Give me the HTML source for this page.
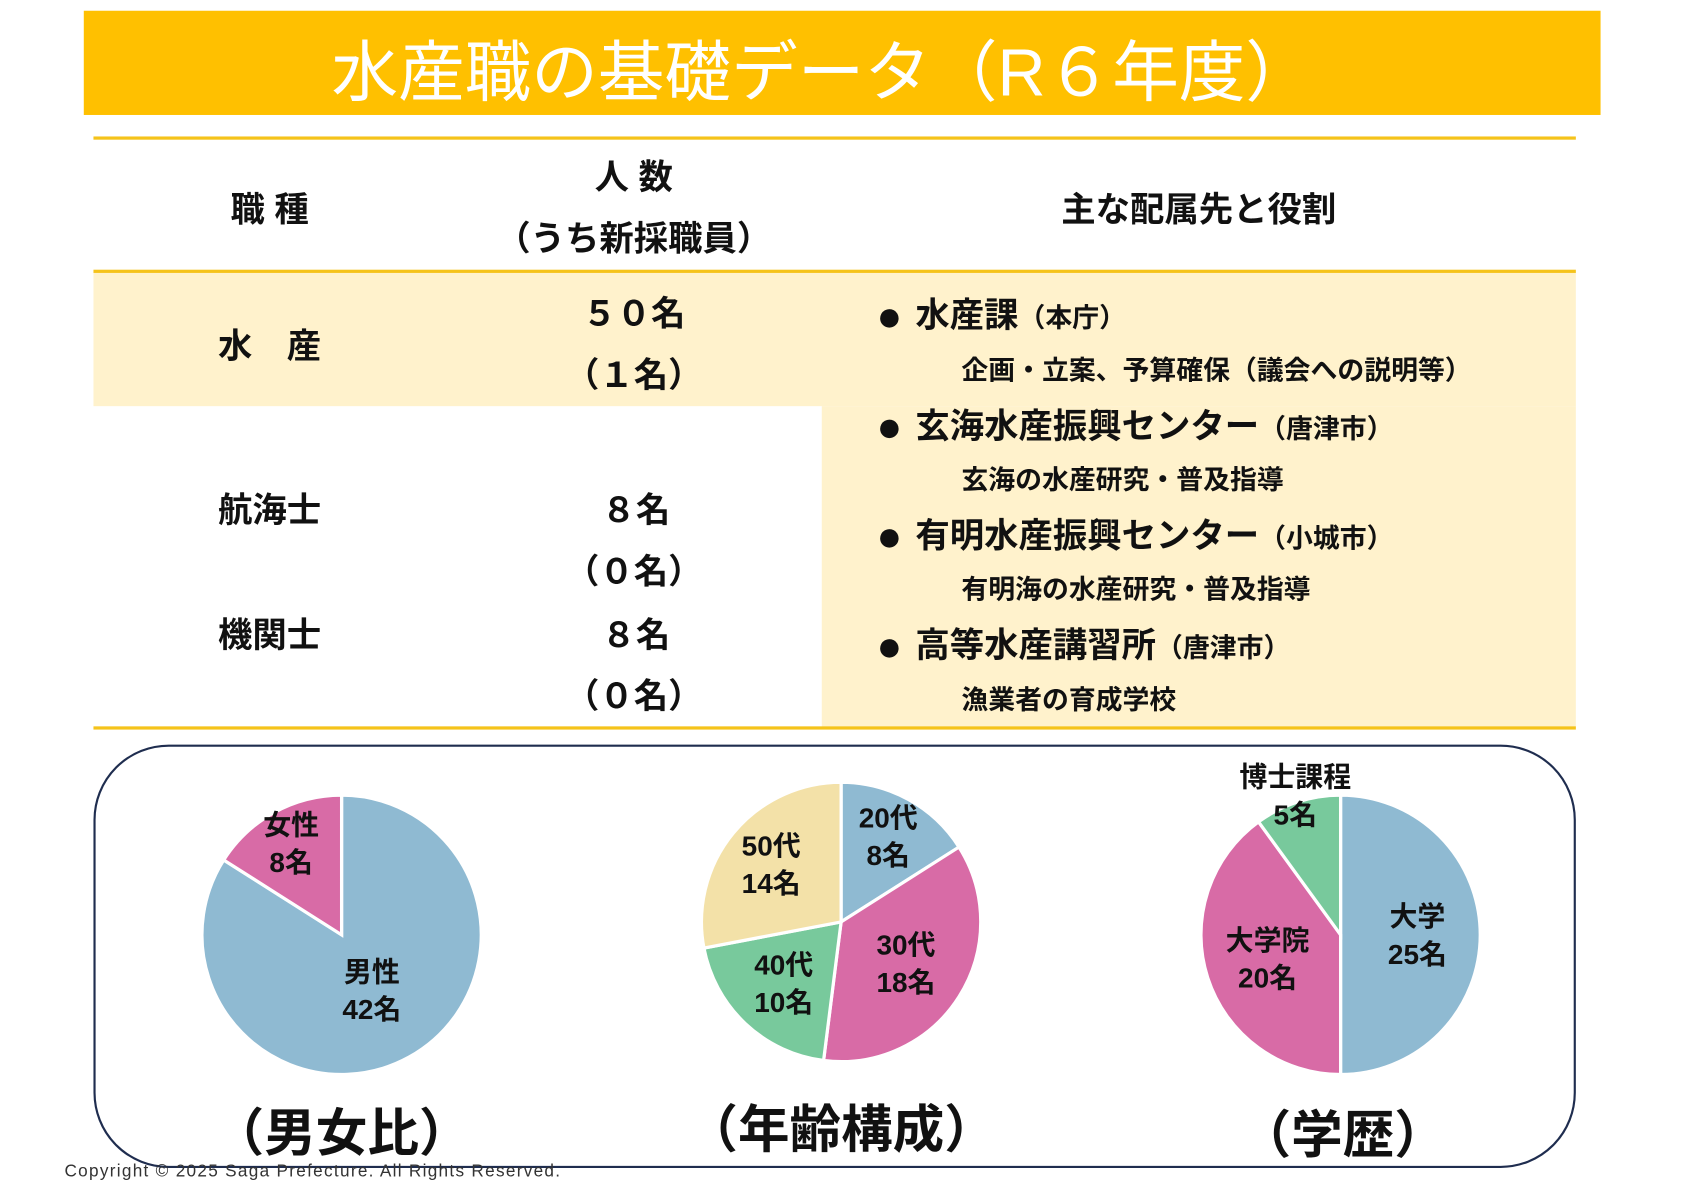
<!DOCTYPE html>
<html><head><meta charset="utf-8">
<style>
html,body{margin:0;padding:0;background:#fff;}
body{width:1684px;height:1190px;overflow:hidden;position:relative;}
#stage{position:absolute;left:0;top:0;width:1560px;height:1102px;transform-origin:0 0;transform:scale(1.0742,1.0745);font-family:"Liberation Sans","Noto Sans CJK JP",sans-serif;color:#111;}
.abs{position:absolute;white-space:nowrap;}
.b{font-weight:bold;}
.line{position:absolute;left:87px;width:1380px;height:3px;background:#f5c31a;}
.cc{transform:translate(-50%,-50%);}
.lc{transform:translateY(-50%);}
.dot{font-size:40px;margin-right:12px;vertical-align:-3px;}
</style></head><body>
<div id="stage">
  <div class="abs" style="left:78px;top:10px;width:1412px;height:97px;background:#ffc000;"></div>
  <div class="abs cc" style="left:765px;top:62px;font-size:62px;color:#fff;">水産職の基礎データ（R６年度）</div>

  <div class="abs" style="left:87px;top:253px;width:1380px;height:125px;background:#fff2cc;"></div>
  <div class="abs" style="left:765px;top:378px;width:702px;height:299px;background:#fff2cc;"></div>
  <div class="line" style="top:127px;"></div>
  <div class="line" style="top:251px;"></div>
  <div class="line" style="top:676px;"></div>

  <div class="abs b cc" style="left:251px;top:193px;font-size:32px;">職 種</div>
  <div class="abs b cc" style="left:590px;top:163px;font-size:32px;">人 数</div>
  <div class="abs b cc" style="left:590px;top:220px;font-size:32px;">（うち新採職員）</div>
  <div class="abs b cc" style="left:1116px;top:193px;font-size:32px;">主な配属先と役割</div>

  <div class="abs b cc" style="left:251px;top:320px;font-size:32px;">水　産</div>
  <div class="abs b cc" style="left:590px;top:290px;font-size:32px;">５０名</div>
  <div class="abs b cc" style="left:590px;top:347px;font-size:32px;">（１名）</div>
  <div class="abs b cc" style="left:251px;top:473px;font-size:32px;">航海士</div>
  <div class="abs b cc" style="left:592px;top:473px;font-size:32px;">８名</div>
  <div class="abs b cc" style="left:590px;top:530px;font-size:32px;">（０名）</div>
  <div class="abs b cc" style="left:251px;top:589px;font-size:32px;">機関士</div>
  <div class="abs b cc" style="left:592px;top:589px;font-size:32px;">８名</div>
  <div class="abs b cc" style="left:590px;top:646px;font-size:32px;">（０名）</div>

  <div class="abs b lc" style="left:816px;top:293px;font-size:32px;"><span class="dot">●</span>水産課<span style="font-size:25px;">（本庁）</span></div>
  <div class="abs b lc" style="left:895px;top:343px;font-size:25px;">企画・立案、予算確保（議会への説明等）</div>
  <div class="abs b lc" style="left:816px;top:396px;font-size:32px;"><span class="dot">●</span>玄海水産振興センター<span style="font-size:25px;">（唐津市）</span></div>
  <div class="abs b lc" style="left:895px;top:445px;font-size:25px;">玄海の水産研究・普及指導</div>
  <div class="abs b lc" style="left:816px;top:498px;font-size:32px;"><span class="dot">●</span>有明水産振興センター<span style="font-size:25px;">（小城市）</span></div>
  <div class="abs b lc" style="left:895px;top:547px;font-size:25px;">有明海の水産研究・普及指導</div>
  <div class="abs b lc" style="left:816px;top:600px;font-size:32px;"><span class="dot">●</span>高等水産講習所<span style="font-size:25px;">（唐津市）</span></div>
  <div class="abs b lc" style="left:895px;top:650px;font-size:25px;">漁業者の育成学校</div>

  <div class="abs" style="left:87px;top:693px;width:1376px;height:390px;border:2px solid #1f2d4f;border-radius:70px;"></div>
  <svg class="abs" id="pies" width="1560" height="1102" style="left:0;top:0;"></svg>

  <div class="abs b cc" style="left:318px;top:1050px;font-size:48px;">（男女比）</div>
  <div class="abs b cc" style="left:783px;top:1047px;font-size:48px;">（年齢構成）</div>
  <div class="abs b cc" style="left:1250px;top:1052px;font-size:48px;">（学歴）</div>
  <div class="abs" style="left:60px;top:1082px;font-size:16px;letter-spacing:1.2px;color:#333;">Copyright © 2025 Saga Prefecture. All Rights Reserved.</div>
</div>
<script>
const genderLabels=["男性","女性"];
const genderValues=[42,8];
const ageLabels=["20代","30代","40代","50代"];
const ageValues=[8,18,10,14];
const eduLabels=["大学","大学院","博士課程"];
const eduValues=[25,20,5];

const NS="http://www.w3.org/2000/svg";
const svg=document.getElementById('pies');
function pie(name,cx,cy,r,labels,values,colors,labelPos){
  const total=values.reduce((a,b)=>a+b,0);
  let a0=0;
  values.forEach((v,i)=>{
    const a1=a0+v/total*Math.PI*2;
    const x0=cx+r*Math.sin(a0),y0=cy-r*Math.cos(a0);
    const x1=cx+r*Math.sin(a1),y1=cy-r*Math.cos(a1);
    const large=(a1-a0)>Math.PI?1:0;
    const p=document.createElementNS(NS,'path');
    p.setAttribute('d',`M${cx},${cy}L${x0},${y0}A${r},${r} 0 ${large} 1 ${x1},${y1}Z`);
    p.setAttribute('fill',colors[i]);
    p.setAttribute('stroke','#fff');
    p.setAttribute('stroke-width','3');
    
    
    svg.appendChild(p);
    const mid=(a0+a1)/2;
    const lf=labelPos[i];
    const lx=cx+r*lf*Math.sin(mid), ly=cy-r*lf*Math.cos(mid);
    [labels[i],v+'名'].forEach((s,k)=>{
      const t=document.createElementNS(NS,'text');
      t.setAttribute('x',lx);
      t.setAttribute('y',ly+(k===0?-8:27));
      t.setAttribute('text-anchor','middle');
      t.setAttribute('font-size','26');
      t.setAttribute('font-weight','bold');
      t.setAttribute('font-family','"Liberation Sans","Noto Sans CJK JP",sans-serif');
      t.setAttribute('fill','#111');
      t.textContent=s;
      
      
      svg.appendChild(t);
    });
    a0=a1;
  });
}
const blue="#8fbad2",pink="#d86ba6",green="#78c99c",yellow="#f3e1a8";
pie('gender-pie',318,870,130,genderLabels,genderValues,[blue,pink],[0.45,0.75]);
pie('age-pie',783,858,130,ageLabels,ageValues,[blue,pink,green,yellow],[0.7,0.55,0.6,0.65]);
pie('education-pie',1248,870,130,eduLabels,eduValues,[blue,pink,green],[0.55,0.55,1.05]);
</script>
</body></html>
